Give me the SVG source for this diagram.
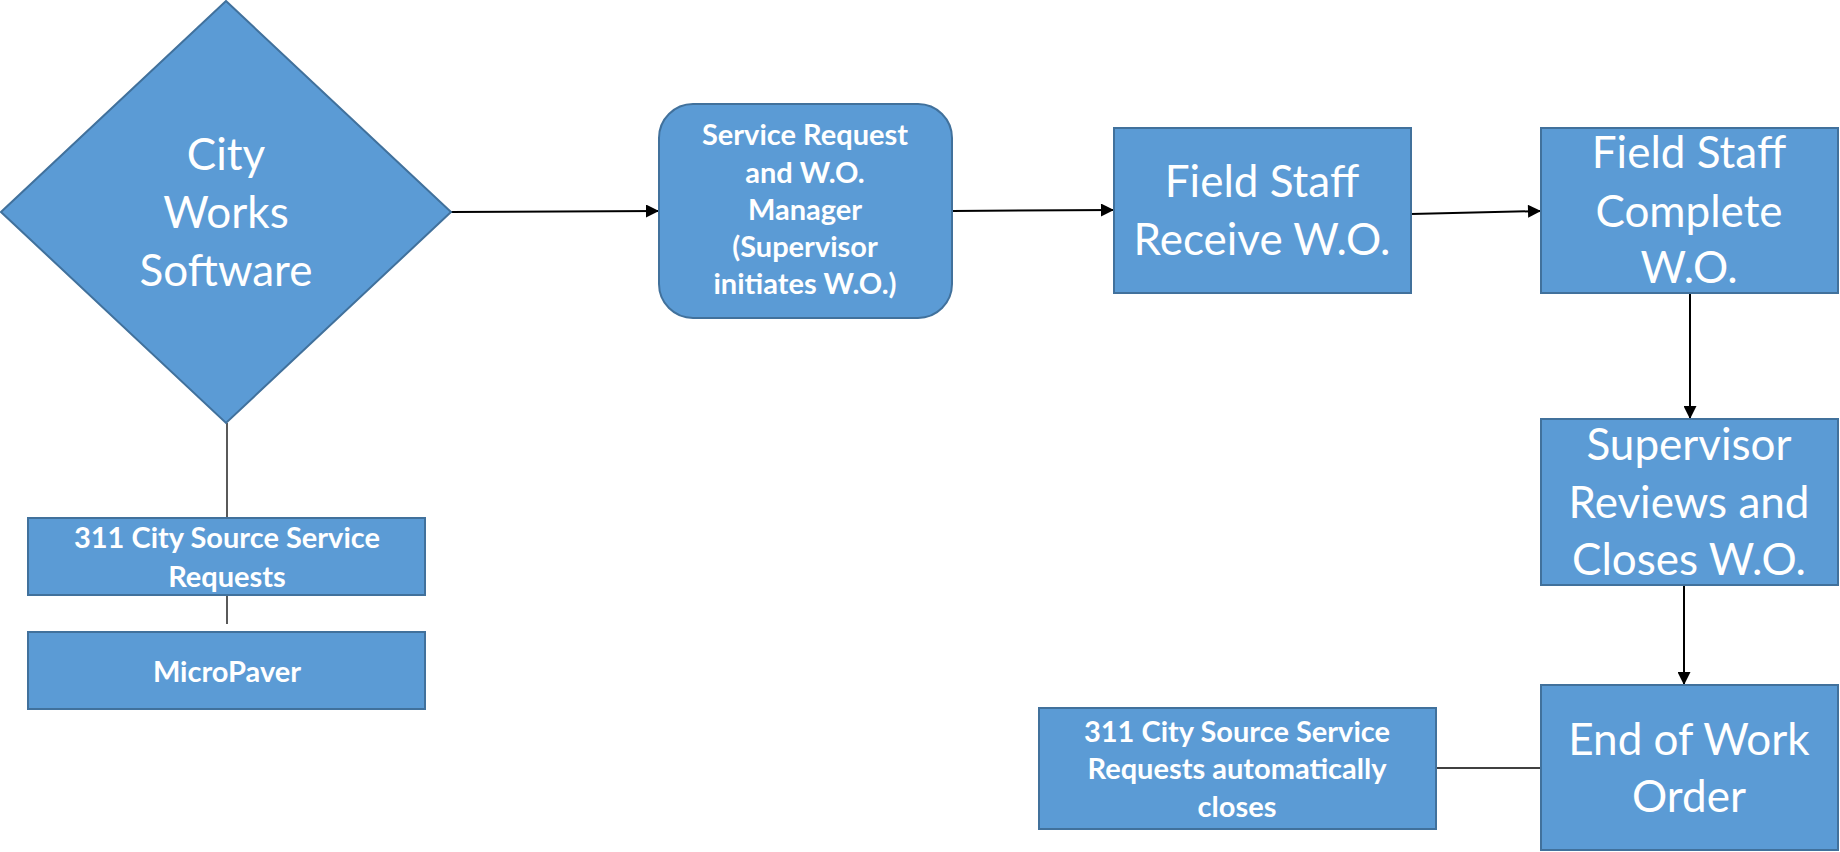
<svg xmlns="http://www.w3.org/2000/svg" width="1840" height="852" viewBox="0 0 1840 852">
<style>
.n{fill:#5B9BD5;stroke:#41719C;stroke-width:2}
.t{font-family:Lato,"Open Sans","DejaVu Sans",sans-serif;fill:#fff;text-anchor:middle}
.big{font-size:44px}
.b{font-size:29px;font-weight:bold}
.c{stroke:#000;fill:none}
.a{stroke-width:2;marker-end:url(#arr)}
.p{stroke-width:1.3}
</style>
<defs>
<marker id="arr" viewBox="0 0 10 10" markerUnits="userSpaceOnUse" markerWidth="15" markerHeight="13" refX="10" refY="5" orient="auto">
<path d="M0,0 L10,5 L0,10 z" fill="#000"/>
</marker>
</defs>
<g id="connectors">
<line class="c p" x1="227" y1="423" x2="227" y2="518"/>
<line class="c p" x1="227" y1="595" x2="227" y2="624"/>
<line class="c a" x1="451" y1="212" x2="659" y2="211"/>
<line class="c a" x1="952" y1="211" x2="1114" y2="210"/>
<line class="c a" x1="1411" y1="214" x2="1541" y2="211"/>
<line class="c a" x1="1690" y1="294" x2="1690" y2="419"/>
<line class="c a" x1="1684" y1="585" x2="1684" y2="685"/>
<line class="c p" x1="1436" y1="768" x2="1541" y2="768"/>
</g>
<g id="cityworks">
<polygon class="n" points="226,1 451,212 226,423 1,212"/>
<text class="t big" x="226" y="170">City</text>
<text class="t big" x="226" y="228">Works</text>
<text class="t big" x="226" y="286">Software</text>
</g>
<g id="city311">
<rect class="n" x="28" y="518" width="397" height="77"/>
<text class="t b" x="227" y="548">311 City Source Service</text>
<text class="t b" x="227" y="587">Requests</text>
</g>
<g id="micropaver">
<rect class="n" x="28" y="632" width="397" height="77"/>
<text class="t b" x="227" y="682">MicroPaver</text>
</g>
<g id="srmanager">
<rect class="n" x="659" y="104" width="293" height="214" rx="34" ry="34"/>
<text class="t b" x="805" y="145">Service Request</text>
<text class="t b" x="805" y="183">and W.O.</text>
<text class="t b" x="805" y="220">Manager</text>
<text class="t b" x="805" y="257">(Supervisor</text>
<text class="t b" x="805" y="294">initiates W.O.)</text>
</g>
<g id="receive">
<rect class="n" x="1114" y="128" width="297" height="165"/>
<text class="t big" x="1262" y="197">Field Staff</text>
<text class="t big" x="1262" y="255">Receive W.O.</text>
</g>
<g id="complete">
<rect class="n" x="1541" y="128" width="297" height="165"/>
<text class="t big" x="1689" y="168">Field Staff</text>
<text class="t big" x="1689" y="227">Complete</text>
<text class="t big" x="1689" y="283">W.O.</text>
</g>
<g id="supervisor">
<rect class="n" x="1541" y="419" width="297" height="166"/>
<text class="t big" x="1689" y="460">Supervisor</text>
<text class="t big" x="1689" y="518">Reviews and</text>
<text class="t big" x="1689" y="575">Closes W.O.</text>
</g>
<g id="endorder">
<rect class="n" x="1541" y="685" width="297" height="165"/>
<text class="t big" x="1689" y="755">End of Work</text>
<text class="t big" x="1689" y="812">Order</text>
</g>
<g id="autoclose">
<rect class="n" x="1039" y="708" width="397" height="121"/>
<text class="t b" x="1237" y="742">311 City Source Service</text>
<text class="t b" x="1237" y="779">Requests automatically</text>
<text class="t b" x="1237" y="817">closes</text>
</g>
</svg>
